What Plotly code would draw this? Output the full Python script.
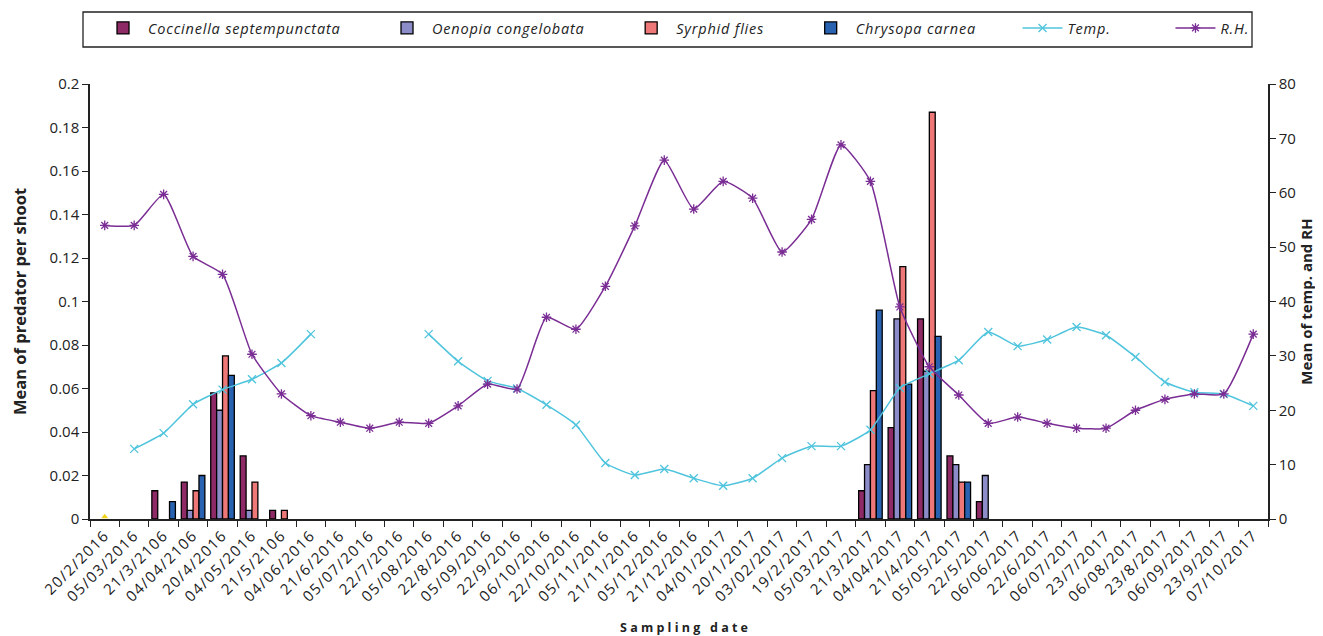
import plotly.graph_objects as go

dates = ["20/2/2016","05/03/2016","21/3/2106","04/04/2106","20/4/2016","04/05/2016","21/5/2106","04/06/2016",
         "21/6/2016","05/07/2016","22/7/2016","05/08/2016","22/8/2016","05/09/2016","22/9/2016","06/10/2016",
         "22/10/2016","05/11/2016","21/11/2016","05/12/2016","21/12/2016","04/01/2017","20/1/2017","03/02/2017",
         "19/2/2017","05/03/2017","21/3/2017","04/04/2017","21/4/2017","05/05/2017","22/5/2017","06/06/2017",
         "22/6/2017","06/07/2017","23/7/2017","06/08/2017","23/8/2017","06/09/2017","23/9/2017","07/10/2017"]

N = None
coccinella = [N,N,0.013,0.017,0.058,0.029,0.004,N, N,N,N,N,N,N,N,N, N,N,N,N,N,N,N,N,
              N,N,0.013,0.042,0.092,0.029,0.008,N, N,N,N,N,N,N,N,N]
oenopia    = [N,N,N,0.004,0.050,0.004,N,N, N,N,N,N,N,N,N,N, N,N,N,N,N,N,N,N,
              N,N,0.025,0.092,0.068,0.025,0.020,N, N,N,N,N,N,N,N,N]
syrphid    = [N,N,N,0.013,0.075,0.017,0.004,N, N,N,N,N,N,N,N,N, N,N,N,N,N,N,N,N,
              N,N,0.059,0.116,0.187,0.017,N,N, N,N,N,N,N,N,N,N]
chrysopa   = [N,N,0.008,0.020,0.066,N,N,N, N,N,N,N,N,N,N,N, N,N,N,N,N,N,N,N,
              N,N,0.096,0.062,0.084,0.017,N,N, N,N,N,N,N,N,N,N]

temp = [N,12.9,15.8,21.1,23.8,25.7,28.7,34.0, N,N,N,34.0,29.0,25.4,24.0,21.0,
        17.3,10.3,8.1,9.2,7.5,6.1,7.5,11.2, 13.4,13.4,16.4,24.1,26.7,29.2,34.4,31.8,
        33.0,35.3,33.8,29.8,25.2,23.3,23.0,20.8]
rh = [54,54,59.7,48.3,45,30.3,23,19, 17.8,16.7,17.8,17.6,20.8,24.8,23.9,37.1,
      34.9,42.8,53.9,66,57,62.1,59,49.1, 55.1,68.8,62.1,39,28,22.8,17.6,18.75,
      17.6,16.7,16.7,20,22,23,23,34]

yellow_x = [dates[0]]
yellow_y = [0.001]

FONT = "Open Sans, Lato, sans-serif"


def spaced(txt, ls, italic=False, pad=0):
    inner = "<i>" + txt + "</i>" if italic else txt
    return '<span style="letter-spacing:%spx">' % ls + inner + "&nbsp;" * pad + "</span>"


fig = go.Figure()

bar_specs = [("Coccinella septempunctata", coccinella, "#8E2A66"),
             ("Oenopia congelobata", oenopia, "#8C8DC8"),
             ("Syrphid flies", syrphid, "#EE7878"),
             ("Chrysopa carnea", chrysopa, "#2A62B2")]
for name, vals, col in bar_specs:
    fig.add_trace(go.Bar(x=dates, y=vals, name=spaced(name, 0.8, True, 8),
                         marker=dict(color=col, line=dict(color="black", width=1.3))))

fig.add_trace(go.Scatter(x=dates, y=temp, name=spaced("Temp.", 0.8, True, 12), yaxis="y2",
                         mode="lines+markers",
                         line=dict(color="#4FC4DD", width=1.5, shape="spline", smoothing=0.5),
                         marker=dict(symbol="x-thin", size=8, line=dict(color="#4FC4DD", width=1.3)),
                         connectgaps=False))
fig.add_trace(go.Scatter(x=dates, y=rh, name=spaced("R.H.", 0.8, True, 0), yaxis="y2", mode="lines+markers",
                         line=dict(color="#7A2D94", width=1.5, shape="spline", smoothing=0.5),
                         marker=dict(symbol="asterisk", size=8, line=dict(color="#7A2D94", width=1.3))))
fig.add_trace(go.Scatter(x=yellow_x, y=yellow_y, mode="markers", showlegend=False,
                         marker=dict(symbol="triangle-up", size=6, color="#F2D21B")))

# legend frame
fig.add_shape(type="rect", xref="paper", yref="paper", x0=-0.00594, x1=0.98642, y0=1.08506, y1=1.16552,
              line=dict(color="#222", width=1.3), fillcolor="rgba(0,0,0,0)", layer="above")

# x-axis title
fig.add_annotation(text="<b>S a m p l i n g&nbsp;&nbsp; d a t e</b>", xref="paper", yref="paper",
                   x=0.504, y=-0.2483, xanchor="center", yanchor="middle", showarrow=False,
                   font=dict(size=12.5, family=FONT, color="#222"))

fig.update_layout(
    width=1323, height=636,
    margin=dict(l=82, r=63, t=76, b=125),
    paper_bgcolor="white", plot_bgcolor="white",
    font=dict(family=FONT, size=13, color="#222"),
    barmode="group", bargap=0.2, bargroupgap=0,
    showlegend=True,
    legend=dict(orientation="h", xref="paper", x=0.0068, xanchor="left",
                yref="container", y=0.9937, yanchor="top",
                bgcolor="rgba(0,0,0,0)", borderwidth=0, font=dict(size=14.5, family=FONT),
                itemwidth=40, traceorder="normal", tracegroupgap=0),
    xaxis=dict(type="category", tickson="boundaries", ticks="outside", ticklen=6, tickcolor="#222",
               tickmode="array", tickvals=dates, ticktext=[spaced(d, 1.4) for d in dates],
               showline=True, linecolor="#222", linewidth=1.5, tickangle=-45, showgrid=False,
               automargin=False, tickfont=dict(size=15, color="#1a1a1a"),
               range=[-0.5, 39.5]),
    yaxis=dict(range=[0, 0.2], dtick=0.02, ticks="outside", ticklen=6, tickcolor="#222",
               showline=True, linecolor="#222", linewidth=1.5, showgrid=False, zeroline=False,
               automargin=False, tickfont=dict(size=15),
               title=dict(text="<b>Mean of predator per shoot</b>", font=dict(size=16.5), standoff=20)),
    yaxis2=dict(range=[0, 80], dtick=10, overlaying="y", side="right", ticks="outside", ticklen=6,
                tickcolor="#222", showline=True, linecolor="#222", linewidth=1.5, showgrid=False,
                zeroline=False, automargin=False, tickfont=dict(size=15),
                title=dict(text="<b>Mean of temp. and RH</b>", font=dict(size=15), standoff=4)),
)

fig.write_html("out.html")
